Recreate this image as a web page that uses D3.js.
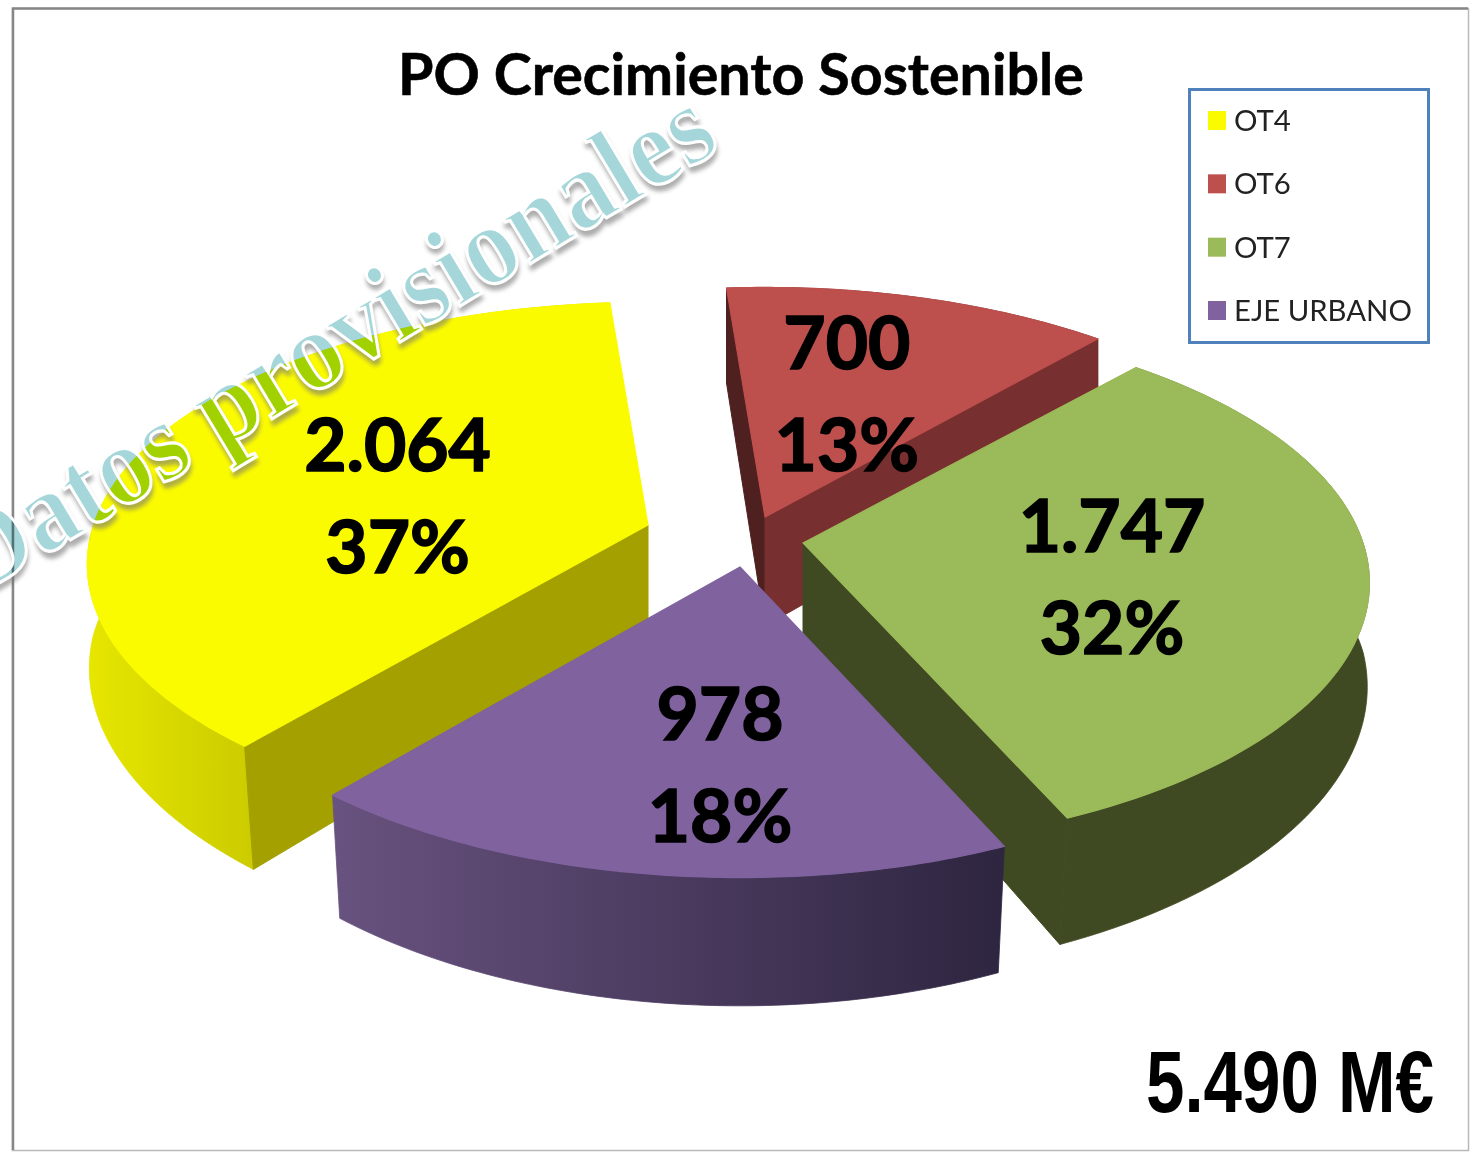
<!DOCTYPE html>
<html><head><meta charset="utf-8">
<script src="https://cdnjs.cloudflare.com/ajax/libs/d3/7.8.5/d3.min.js"></script>
<style>html,body{margin:0;padding:0;background:#fff;overflow:hidden}svg{display:block}</style>
</head><body><svg id="c" width="1470" height="1153"></svg>
<script>
// ---- data ----
const categories = ["OT4","OT6","OT7","EJE URBANO"];
const amounts = [2064,700,1747,978];
const percentLabels = ["37%","13%","32%","18%"];
const chartTitle = "PO Crecimiento Sostenible";
const totalLabel = "5.490 M€";
const watermark = "Datos provisionales";

// ---- styling and layout ----
const topColors = ["#fbfb00","#bd4f4d","#9bba59","#7f629e"];
const wallFrom  = ["#e6e600","#4f2020","#3f4a22","#68527f"];
const wallTo    = ["#cccc00","#4f2020","#3f4a22","#2e2540"];
const startFace = ["#a3a000","#4f2020","#3f4a22","#3f3150"];
const endFace   = ["#a3a000","#782f2f","#3f4a22","#3f3150"];
const paintOrder = [1,0,2,3];            // back to front
const W=1470,H=1153;
const center=[725,540];
const explode=[[-77,-15],[40,-23],[78,3],[15,27]];   // exploded shift of each slice, px
const sliceScale=[[.99,.97],[1,1],[1,.985],[1,1]];   // slight per-slice flattening [x,y]
const labelRadius=[.474,.525,.556,.675];
const labelTurn=[-3.6,-1,4.5,-5.3];      // degrees from the slice's mid-angle
const firstAngle=220.1*Math.PI/180;
const Ax=560,By=264,persp=.15,depth=109,lean=.024;

const svg=d3.select("#c");
const defs=svg.append("defs");
const locale=d3.formatLocale({decimal:",",thousands:".",grouping:[3],currency:["","€"]});
const fmt=locale.format(",d");

const arcs=d3.pie().sort(null).startAngle(firstAngle).endAngle(firstAngle+2*Math.PI)(amounts);
const lineGen=d3.line();

function project(i,u,v,z){
  const apex=[center[0]+explode[i][0],center[1]+explode[i][1]];
  const w=1-persp*v;
  const x=apex[0]+Ax*sliceScale[i][0]*u/w, y=apex[1]+(By*sliceScale[i][1]*v+depth*z)/w;
  return [x+(center[0]-x)*lean*Math.max(0,v)*z, y];
}
const onCircle=(i,a,r,z)=>project(i,r*Math.sin(a),-r*Math.cos(a),z);
const sweep=(a0,a1)=>d3.range(0,81).map(k=>a0+(a1-a0)*k/80);

// frame
svg.append("rect").attr("width",W).attr("height",H).attr("fill","#fff");
svg.append("rect").attr("x",12.5).attr("y",8.5).attr("width",1456).attr("height",1142)
  .attr("fill","none").attr("stroke","#b9b9b9").attr("stroke-width",1.5);
svg.append("path").attr("d","M13,1150V8.5H1468").attr("fill","none").attr("stroke","#868686").attr("stroke-width",2.5);

// slices
paintOrder.forEach(i=>{
  const d=arcs[i];
  const ang=sweep(d.startAngle,d.endAngle);
  const g=svg.append("g").attr("class","slice");
  const top=ang.map(a=>onCircle(i,a,1,0));
  const gid="wall"+i;
  const lg=defs.append("linearGradient").attr("id",gid).attr("gradientUnits","userSpaceOnUse")
     .attr("x1",i==0?88:334).attr("x2",i==0?250:1003).attr("y1",0).attr("y2",0);
  lg.append("stop").attr("offset",0).attr("stop-color",wallFrom[i]);
  lg.append("stop").attr("offset",1).attr("stop-color",wallTo[i]);
  g.append("path").attr("fill",`url(#${gid})`).attr("stroke",`url(#${gid})`).attr("stroke-width",.8)
     .attr("d",lineGen(top.concat(ang.slice().reverse().map(a=>onCircle(i,a,1,1))))+"Z");
  const radial=(a,c)=>g.append("path").attr("fill",c).attr("stroke",c).attr("stroke-width",1)
     .attr("d",lineGen([project(i,0,0,0),onCircle(i,a,1,0),onCircle(i,a,1,1),project(i,0,0,1)])+"Z");
  // only the cut faces turned towards the viewer
  if(Math.sin(d.startAngle)<0) radial(d.startAngle,startFace[i]);
  if(Math.sin(d.endAngle)>0) radial(d.endAngle,endFace[i]);
  g.append("path").attr("fill",topColors[i]).attr("stroke",topColors[i]).attr("stroke-width",1.2)
     .attr("d",lineGen([project(i,0,0,0)].concat(top))+"Z");
});

// slice labels
arcs.forEach((d,i)=>{
  const mid=(d.startAngle+d.endAngle)/2+labelTurn[i]*Math.PI/180;
  const p=onCircle(i,mid,labelRadius[i],0);
  [[fmt(d.value),-51],[percentLabels[i],51]].forEach(([t,dy])=>{
    svg.append("text").attr("x",p[0]).attr("y",p[1]+dy+26).attr("text-anchor","middle")
      .attr("font-family","Lato").attr("font-weight",700).attr("font-size",73)
      .attr("stroke","#000").attr("stroke-width",1.6).attr("fill","#000").text(t);
  });
});

// watermark
defs.append("filter").attr("id","soft").attr("x","-10%").attr("y","-30%").attr("width","120%").attr("height","160%")
  .append("feGaussianBlur").attr("stdDeviation",2);
const wmFont=s=>s.attr("font-family","Liberation Serif").attr("font-weight",700).attr("font-size",114)
  .attr("text-anchor","middle").attr("textLength",870).attr("lengthAdjust","spacingAndGlyphs").text(watermark);
const mask=defs.append("mask").attr("id","notGlyph").attr("maskUnits","userSpaceOnUse")
  .attr("x",-700).attr("y",-300).attr("width",1400).attr("height",600);
mask.append("rect").attr("x",-700).attr("y",-300).attr("width",1400).attr("height",600).attr("fill","#fff");
wmFont(mask.append("text")).attr("fill","#000");
const wm=svg.append("g").attr("transform","translate(350,372) rotate(-31)");
wmFont(wm.append("g").attr("mask","url(#notGlyph)").append("text"))
  .attr("fill","#777").attr("stroke","#777").attr("stroke-width",2).attr("opacity",.6)
  .attr("transform","translate(-2,6)").attr("filter","url(#soft)");
wmFont(wm.append("text")).attr("fill","#a4d6da").style("mix-blend-mode","multiply");
wmFont(wm.append("text")).attr("fill","none").attr("stroke","#fff").attr("stroke-width",3.2);

// title
svg.append("text").attr("x",741).attr("y",95).attr("text-anchor","middle")
  .attr("font-family","Lato").attr("font-weight",700).attr("font-size",58).attr("fill","#000")
  .attr("stroke","#000").attr("stroke-width",.6)
  .attr("textLength",686).attr("lengthAdjust","spacingAndGlyphs").text(chartTitle);

// legend
svg.append("rect").attr("x",1189.5).attr("y",89.5).attr("width",239).attr("height",253)
  .attr("fill","#fff").attr("stroke","#4f81bd").attr("stroke-width",3);
const ly=d3.scalePoint().domain(categories).range([121,311]);
categories.forEach((c,i)=>{
  svg.append("rect").attr("x",1208).attr("y",ly(c)-10).attr("width",18).attr("height",19).attr("fill",topColors[i]);
  svg.append("text").attr("x",1234).attr("y",ly(c)+10).attr("font-family","Lato").attr("font-size",29.3).attr("fill","#222").text(c);
});

// total
svg.append("text").attr("x",1146).attr("y",1112).attr("font-family","Liberation Sans").attr("font-weight",700)
  .attr("font-size",88).attr("fill","#000").attr("textLength",288).attr("lengthAdjust","spacingAndGlyphs").text(totalLabel);
</script></body></html>
